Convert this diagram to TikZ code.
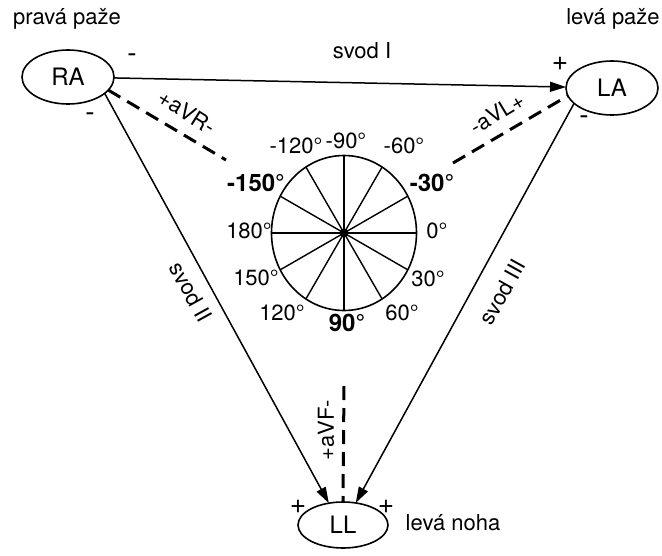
\documentclass[tikz,border=0pt]{standalone}
\usepackage{fontspec}
\setmainfont{TeX Gyre Heros}
\usetikzlibrary{shapes.geometric,arrows.meta}
\begin{document}
\begin{tikzpicture}[x=1pt,y=-1pt,
  lead/.style={ellipse,draw,line width=1.6pt,minimum width=92pt,minimum height=54pt,
    inner sep=0pt,outer sep=0pt,font=\fontsize{24}{28}\selectfont},
  txt/.style={font=\fontsize{22}{26}\selectfont,inner sep=0pt},
  sign/.style={font=\fontsize{28}{32}\selectfont,inner sep=0pt},
  bdeg/.style={font=\fontsize{24}{28}\selectfont\bfseries,inner sep=0pt},
  wire/.style={line width=1.5pt,-{Triangle[length=16pt,width=10pt]}},
  aug/.style={line width=3pt,dash pattern=on 14pt off 8pt},
  spoke/.style={line width=1.4pt}]
\useasboundingbox (0,0) rectangle (662,555);

% electrodes
\node[lead] (RA) at (68,77) {RA};
\node[lead] (LA) at (612,88) {LA};
\node[lead,minimum width=90pt,minimum height=46pt] (LL) at (343,525) {LL};

\node[txt] (tRA) at (67,19) {pravá paže};
\node[txt] (tLA) at (613,19) {levá paže};
\node[txt] (tLL) at (453,523) {levá noha};

% hexaxial dial
\node[ellipse,draw,line width=1.6pt,minimum width=145pt,minimum height=155pt,
  inner sep=0pt,outer sep=0pt] (dial) at (344,233) {};
\foreach \a/\b in {0/180,30/210,60/240,90/270,120/300,150/330}
  \draw[spoke] (dial.\a) -- (dial.\b);
\fill (dial.center) circle (4.5pt);

\node[txt] (d0)   at (437,231) {0°};
\node[txt] (d30)  at (428,279) {30°};
\node[txt] (d60)  at (402,313) {60°};
\node[bdeg] (d90) at (347,323) {90°};
\node[txt] (d120) at (282,313) {120°};
\node[txt] (d150) at (256,278) {150°};
\node[txt] (d180) at (249,231) {180°};
\node[bdeg] (dm150) at (256,183) {-150°};
\node[txt] (dm120) at (296,146) {-120°};
\node[txt] (dm90)  at (346,141) {-90°};
\node[txt] (dm60)  at (404,146) {-60°};
\node[bdeg] (dm30) at (432,183) {-30°};

% limb leads
\draw[wire] (RA) -- (LA);
\draw[wire] (RA.-24) -- (LL.123);
\draw[wire] (LA.-158) -- (LL.60);
\node[txt] (sI)   at (362,51) {svod I};
\node[txt,rotate=-61] (sII)  at (191,292) {svod II};
\node[txt,rotate=61]  (sIII) at (502,292) {svod III};

% polarity marks
\node[sign] (p1) at (132,58) {-};
\node[sign] (p2) at (90,117) {-};
\node[sign] (p3) at (560,64) {+};
\node[sign] (p4) at (584,120) {-};
\node[sign] (p5) at (298,507) {+};
\node[sign] (p6) at (386,507) {+};

% augmented leads
\coordinate (vr) at (226,160);
\coordinate (vl) at (453,163);
\coordinate (vf) at (344,386);
\draw[aug] (RA.-18) -- (vr);
\draw[aug] (vl) -- (LA.-170);
\draw[aug] (vf) -- (LL.north);
\node[txt,rotate=-32] (aVR) at (187,112) {+aVR-};
\node[txt,rotate=31]  (aVL) at (497,113) {-aVL+};
\node[txt,rotate=90]  (aVF) at (326,430) {+aVF-};
\end{tikzpicture}
\end{document}
